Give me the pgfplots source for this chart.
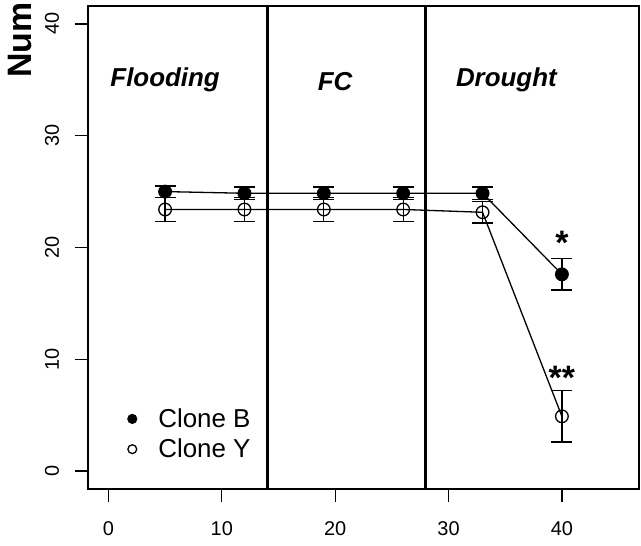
\documentclass[border=0pt]{standalone}
\usepackage{fontspec}
\setmainfont{Liberation Sans}
\usepackage{pgfplots}
\pgfplotsset{compat=1.18}
\begin{document}
\begin{tikzpicture}
\begin{axis}[
  name=ax,
  scale only axis,
  width=551bp, height=483bp,
  xmin=-1.8, xmax=46.8, ymin=-1.6, ymax=41.6,
  xtick={0,10,20,30,40}, ytick={0,10,20,30,40},
  tick pos=left, tick align=outside,
  major tick length=13bp,
  tick style={line width=1.3bp, black},
  axis line style={line width=2.1bp},
  /pgf/number format/assume math mode=true,
  ticklabel style={font=\fontsize{20}{24}\selectfont},
  xticklabel style={anchor=base, inner sep=0pt, yshift=-33bp},
  yticklabel style={rotate=90, anchor=base, inner sep=0pt, yshift=16bp},
  clip=false,
  legend style={draw=none, fill=none, at={(axis cs:1.43,5.95)}, anchor=north west,
    font=\fontsize{26}{31}\selectfont, row sep=6bp,
    nodes={inner sep=2bp}},
  legend cell align=left,
  legend image code/.code={\draw[#1, mark size=4.4bp] plot coordinates {(0bp,0bp)}; \path[draw=none, fill=none] (-4.5bp,0bp) -- (24bp,0bp);},
]
\addplot[black, line width=1.3bp, mark=*, mark size=6.3bp,
  error bars/.cd, y dir=both, y explicit,
  error bar style={line width=1.3bp},
  error mark options={rotate=90, mark size=10.5bp, line width=1.3bp}]
  table[x=x, y=y, y error=e] {
x y e
5 25.0 0.5
12 24.85 0.55
19 24.85 0.55
26 24.85 0.55
33 24.85 0.55
40 17.6 1.4
};
\addplot[black, line width=1.3bp, mark=o, mark size=6.3bp, mark options={fill=white, line width=1.3bp},
  error bars/.cd, y dir=both, y explicit,
  error bar style={line width=1.3bp},
  error mark options={rotate=90, mark size=10.5bp, line width=1.3bp}]
  table[x=x, y=y, y error=e] {
x y e
5 23.4 1.05
12 23.4 1.05
19 23.4 1.05
26 23.4 1.05
33 23.15 0.95
40 4.9 2.3
};
\addplot[black, line width=2.8bp, forget plot] coordinates {(14,-1.6) (14,41.6)};
\addplot[black, line width=2.8bp, forget plot] coordinates {(28,-1.6) (28,41.6)};
\legend{Clone B, Clone Y}
\node[anchor=base, inner sep=0pt, font=\fontsize{26}{31}\selectfont\bfseries\itshape] at (axis cs:5,34.4) {Flooding};
\node[anchor=base, inner sep=0pt, font=\fontsize{26}{31}\selectfont\bfseries\itshape] at (axis cs:20,34.0) {FC};
\node[anchor=base, inner sep=0pt, font=\fontsize{26}{31}\selectfont\bfseries\itshape] at (axis cs:35.1,34.4) {Drought};
\node[anchor=north, inner sep=0pt, font=\fontsize{34}{40}\selectfont\bfseries] at (axis cs:40,21.5) {*};
\node[anchor=north, inner sep=0pt, font=\fontsize{34}{40}\selectfont\bfseries] at (axis cs:40,9.4) {**};
\node[anchor=base west, rotate=90, inner sep=0pt, font=\fontsize{34}{40}\selectfont\bfseries] at ([shift={(-56bp,411bp)}]rel axis cs:0,0) {Num};
\end{axis}
\pgfresetboundingbox
\path[use as bounding box] ([shift={(-88bp,-57bp)}]ax.south west) rectangle ([shift={(2bp,6bp)}]ax.north east);
\end{tikzpicture}
\end{document}
